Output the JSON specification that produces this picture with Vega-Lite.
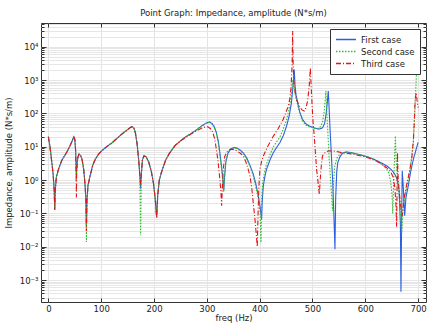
{
  "$schema": "https://vega.github.io/schema/vega-lite/v6.json",
  "autosize": {"type": "none"},
  "width": 385,
  "height": 279,
  "padding": {"left": 41, "top": 23, "right": 9, "bottom": 22},
  "background": "white",
  "config": {
    "font": "DejaVu Sans",
    "view": {"stroke": "#333333", "strokeWidth": 1},
    "axis": {"labelFont": "DejaVu Sans", "titleFont": "DejaVu Sans", "labelColor": "#222222", "titleColor": "#222222", "labelFontSize": 8.5, "titleFontSize": 8.5, "titleFontWeight": "normal", "domainColor": "#333333", "tickColor": "#333333"}
  },
  "title": {"text": "Point Graph: Impedance, amplitude (N*s/m)", "fontSize": 8.5, "fontWeight": "normal", "font": "DejaVu Sans", "color": "#222222", "offset": 5},
  "datasets": {
    "curves": [
      {"s":"First case","f":0,"v":20},{"s":"First case","f":3,"v":10},{"s":"First case","f":6,"v":4},{"s":"First case","f":9,"v":1.5},{"s":"First case","f":11,"v":0.5},{"s":"First case","f":12,"v":0.13},{"s":"First case","f":13,"v":0.5},{"s":"First case","f":15,"v":1.2},{"s":"First case","f":19,"v":2.1},{"s":"First case","f":25,"v":3.8},{"s":"First case","f":30,"v":5.2},{"s":"First case","f":35,"v":7},{"s":"First case","f":40,"v":10},{"s":"First case","f":45,"v":15},{"s":"First case","f":48,"v":20},{"s":"First case","f":50,"v":17},{"s":"First case","f":51.5,"v":8},{"s":"First case","f":52.5,"v":2.5},{"s":"First case","f":53,"v":1.2},{"s":"First case","f":54,"v":3},{"s":"First case","f":56,"v":5},{"s":"First case","f":58,"v":6},{"s":"First case","f":61,"v":5.5},{"s":"First case","f":64,"v":4},{"s":"First case","f":67,"v":2},{"s":"First case","f":69.5,"v":0.7},{"s":"First case","f":71,"v":0.25},{"s":"First case","f":72,"v":0.04},{"s":"First case","f":73,"v":0.25},{"s":"First case","f":75,"v":0.7},{"s":"First case","f":79,"v":1.35},{"s":"First case","f":84,"v":2.8},{"s":"First case","f":89,"v":4.3},{"s":"First case","f":95,"v":6},{"s":"First case","f":101,"v":7.6},{"s":"First case","f":110,"v":10},{"s":"First case","f":120,"v":13},{"s":"First case","f":130,"v":18},{"s":"First case","f":139,"v":24},{"s":"First case","f":148,"v":31},{"s":"First case","f":155,"v":38},{"s":"First case","f":158.5,"v":40},{"s":"First case","f":162,"v":36},{"s":"First case","f":165,"v":25},{"s":"First case","f":168,"v":12},{"s":"First case","f":171,"v":4},{"s":"First case","f":173,"v":1.5},{"s":"First case","f":174.6,"v":0.55},{"s":"First case","f":176,"v":1.5},{"s":"First case","f":178,"v":4},{"s":"First case","f":181,"v":5.4},{"s":"First case","f":185,"v":5},{"s":"First case","f":190,"v":3.5},{"s":"First case","f":195,"v":1.8},{"s":"First case","f":199,"v":0.8},{"s":"First case","f":202,"v":0.3},{"s":"First case","f":205,"v":0.076},{"s":"First case","f":207,"v":0.35},{"s":"First case","f":210,"v":1},{"s":"First case","f":214,"v":1.7},{"s":"First case","f":222,"v":4},{"s":"First case","f":230,"v":6.7},{"s":"First case","f":240,"v":11},{"s":"First case","f":250,"v":15},{"s":"First case","f":260,"v":20},{"s":"First case","f":270,"v":25},{"s":"First case","f":280,"v":32},{"s":"First case","f":290,"v":42},{"s":"First case","f":298,"v":51},{"s":"First case","f":305,"v":56},{"s":"First case","f":310,"v":50},{"s":"First case","f":314,"v":40},{"s":"First case","f":318,"v":27},{"s":"First case","f":322,"v":14},{"s":"First case","f":325,"v":6},{"s":"First case","f":328,"v":2.5},{"s":"First case","f":330.5,"v":1},{"s":"First case","f":332,"v":0.5},{"s":"First case","f":333.5,"v":1.2},{"s":"First case","f":336,"v":3.5},{"s":"First case","f":340,"v":6.5},{"s":"First case","f":346,"v":8.8},{"s":"First case","f":352,"v":9.5},{"s":"First case","f":358,"v":9},{"s":"First case","f":364,"v":7.8},{"s":"First case","f":370,"v":6.3},{"s":"First case","f":376,"v":4.5},{"s":"First case","f":382,"v":2.7},{"s":"First case","f":388,"v":1.5},{"s":"First case","f":393,"v":0.75},{"s":"First case","f":398,"v":0.3},{"s":"First case","f":401,"v":0.15},{"s":"First case","f":403.7,"v":0.068},{"s":"First case","f":405,"v":0.25},{"s":"First case","f":407,"v":0.68},{"s":"First case","f":410,"v":1.3},{"s":"First case","f":413,"v":2.1},{"s":"First case","f":420,"v":4.2},{"s":"First case","f":426,"v":6.7},{"s":"First case","f":432,"v":9.5},{"s":"First case","f":438.5,"v":13.5},{"s":"First case","f":445,"v":22},{"s":"First case","f":451,"v":42},{"s":"First case","f":456,"v":85},{"s":"First case","f":460,"v":200},{"s":"First case","f":463,"v":600},{"s":"First case","f":465.5,"v":2100},{"s":"First case","f":467,"v":700},{"s":"First case","f":469,"v":350},{"s":"First case","f":472,"v":210},{"s":"First case","f":476,"v":110},{"s":"First case","f":481,"v":67},{"s":"First case","f":487,"v":50},{"s":"First case","f":494,"v":42},{"s":"First case","f":503,"v":37},{"s":"First case","f":513,"v":34},{"s":"First case","f":519,"v":37},{"s":"First case","f":523,"v":50},{"s":"First case","f":526,"v":100},{"s":"First case","f":528.5,"v":250},{"s":"First case","f":530,"v":470},{"s":"First case","f":531.5,"v":150},{"s":"First case","f":533.5,"v":30},{"s":"First case","f":536,"v":5},{"s":"First case","f":538.5,"v":0.8},{"s":"First case","f":540.5,"v":0.1},{"s":"First case","f":542.6,"v":0.0085},{"s":"First case","f":544,"v":0.3},{"s":"First case","f":546,"v":1.8},{"s":"First case","f":548,"v":3.4},{"s":"First case","f":552,"v":5},{"s":"First case","f":557,"v":6.5},{"s":"First case","f":565,"v":7},{"s":"First case","f":575,"v":6.6},{"s":"First case","f":590,"v":5.8},{"s":"First case","f":605,"v":5},{"s":"First case","f":617,"v":4.2},{"s":"First case","f":630,"v":3.3},{"s":"First case","f":642,"v":2.6},{"s":"First case","f":650,"v":2},{"s":"First case","f":655,"v":1.6},{"s":"First case","f":660,"v":1.1},{"s":"First case","f":664,"v":0.5},{"s":"First case","f":666.5,"v":0.05},{"s":"First case","f":667.6,"v":0.00045},{"s":"First case","f":668.8,"v":0.05},{"s":"First case","f":670,"v":1.9},{"s":"First case","f":672,"v":0.6},{"s":"First case","f":674.6,"v":0.085},{"s":"First case","f":677,"v":0.3},{"s":"First case","f":681.5,"v":0.68},{"s":"First case","f":686,"v":1.8},{"s":"First case","f":691,"v":4.2},{"s":"First case","f":696,"v":8},{"s":"First case","f":700,"v":13.5},

      {"s":"Second case","f":0,"v":20},{"s":"Second case","f":3,"v":10},{"s":"Second case","f":6,"v":4},{"s":"Second case","f":9,"v":1.5},{"s":"Second case","f":11,"v":0.5},{"s":"Second case","f":12,"v":0.13},{"s":"Second case","f":13,"v":0.5},{"s":"Second case","f":15,"v":1.2},{"s":"Second case","f":19,"v":2.1},{"s":"Second case","f":25,"v":3.8},{"s":"Second case","f":30,"v":5.2},{"s":"Second case","f":35,"v":7},{"s":"Second case","f":40,"v":10},{"s":"Second case","f":45,"v":15},{"s":"Second case","f":48,"v":20},{"s":"Second case","f":50,"v":17},{"s":"Second case","f":51.5,"v":8},{"s":"Second case","f":52.5,"v":2.5},{"s":"Second case","f":53,"v":1.2},{"s":"Second case","f":54,"v":3},{"s":"Second case","f":56,"v":5},{"s":"Second case","f":58,"v":6},{"s":"Second case","f":61,"v":5.5},{"s":"Second case","f":64,"v":4},{"s":"Second case","f":67,"v":2},{"s":"Second case","f":69.5,"v":0.7},{"s":"Second case","f":71,"v":0.25},{"s":"Second case","f":72,"v":0.014},{"s":"Second case","f":73,"v":0.25},{"s":"Second case","f":75,"v":0.7},{"s":"Second case","f":79,"v":1.35},{"s":"Second case","f":84,"v":2.8},{"s":"Second case","f":89,"v":4.3},{"s":"Second case","f":95,"v":6},{"s":"Second case","f":101,"v":7.6},{"s":"Second case","f":110,"v":10},{"s":"Second case","f":120,"v":13},{"s":"Second case","f":130,"v":18},{"s":"Second case","f":139,"v":24},{"s":"Second case","f":148,"v":31},{"s":"Second case","f":155,"v":38},{"s":"Second case","f":158.5,"v":40},{"s":"Second case","f":162,"v":36},{"s":"Second case","f":165,"v":25},{"s":"Second case","f":168,"v":12},{"s":"Second case","f":171,"v":4},{"s":"Second case","f":173,"v":1.5},{"s":"Second case","f":174.6,"v":0.022},{"s":"Second case","f":176,"v":1.5},{"s":"Second case","f":178,"v":4},{"s":"Second case","f":181,"v":5.4},{"s":"Second case","f":185,"v":5},{"s":"Second case","f":190,"v":3.5},{"s":"Second case","f":195,"v":1.8},{"s":"Second case","f":199,"v":0.8},{"s":"Second case","f":202,"v":0.3},{"s":"Second case","f":205,"v":0.076},{"s":"Second case","f":207,"v":0.35},{"s":"Second case","f":210,"v":1},{"s":"Second case","f":214,"v":1.7},{"s":"Second case","f":222,"v":4},{"s":"Second case","f":230,"v":6.7},{"s":"Second case","f":240,"v":11},{"s":"Second case","f":250,"v":15},{"s":"Second case","f":260,"v":20},{"s":"Second case","f":270,"v":25},{"s":"Second case","f":280,"v":32},{"s":"Second case","f":290,"v":41},{"s":"Second case","f":298,"v":50},{"s":"Second case","f":305,"v":54},{"s":"Second case","f":310,"v":48},{"s":"Second case","f":314,"v":38},{"s":"Second case","f":318,"v":25},{"s":"Second case","f":322,"v":12},{"s":"Second case","f":325,"v":5},{"s":"Second case","f":328,"v":2},{"s":"Second case","f":330.5,"v":0.9},{"s":"Second case","f":332,"v":0.45},{"s":"Second case","f":333.5,"v":1.3},{"s":"Second case","f":336,"v":3.8},{"s":"Second case","f":340,"v":6.6},{"s":"Second case","f":346,"v":8.8},{"s":"Second case","f":352,"v":9.3},{"s":"Second case","f":358,"v":8.8},{"s":"Second case","f":364,"v":7.5},{"s":"Second case","f":370,"v":6},{"s":"Second case","f":376,"v":4.2},{"s":"Second case","f":382,"v":2.5},{"s":"Second case","f":388,"v":1.3},{"s":"Second case","f":393,"v":0.6},{"s":"Second case","f":398,"v":0.25},{"s":"Second case","f":401,"v":0.1},{"s":"Second case","f":402.5,"v":0.0136},{"s":"Second case","f":404,"v":0.3},{"s":"Second case","f":406,"v":0.9},{"s":"Second case","f":410,"v":2},{"s":"Second case","f":413,"v":3},{"s":"Second case","f":420,"v":6},{"s":"Second case","f":426,"v":10},{"s":"Second case","f":432,"v":14},{"s":"Second case","f":438.5,"v":20},{"s":"Second case","f":445,"v":35},{"s":"Second case","f":451,"v":65},{"s":"Second case","f":456,"v":140},{"s":"Second case","f":460,"v":350},{"s":"Second case","f":462.5,"v":900},{"s":"Second case","f":464,"v":1200},{"s":"Second case","f":465.5,"v":600},{"s":"Second case","f":467,"v":400},{"s":"Second case","f":469,"v":280},{"s":"Second case","f":472,"v":180},{"s":"Second case","f":476,"v":100},{"s":"Second case","f":481,"v":60},{"s":"Second case","f":487,"v":45},{"s":"Second case","f":494,"v":40},{"s":"Second case","f":503,"v":36},{"s":"Second case","f":510,"v":35},{"s":"Second case","f":515,"v":40},{"s":"Second case","f":519,"v":55},{"s":"Second case","f":522,"v":110},{"s":"Second case","f":524.5,"v":300},{"s":"Second case","f":525.5,"v":470},{"s":"Second case","f":527,"v":120},{"s":"Second case","f":529,"v":30},{"s":"Second case","f":531.5,"v":5},{"s":"Second case","f":534,"v":1.2},{"s":"Second case","f":536,"v":0.4},{"s":"Second case","f":538,"v":0.12},{"s":"Second case","f":539.5,"v":0.6},{"s":"Second case","f":542,"v":2.5},{"s":"Second case","f":546,"v":4.5},{"s":"Second case","f":552,"v":6},{"s":"Second case","f":557,"v":6.7},{"s":"Second case","f":565,"v":7},{"s":"Second case","f":575,"v":6.6},{"s":"Second case","f":590,"v":5.8},{"s":"Second case","f":605,"v":5},{"s":"Second case","f":617,"v":4.1},{"s":"Second case","f":630,"v":3.1},{"s":"Second case","f":640,"v":2.2},{"s":"Second case","f":645,"v":1.6},{"s":"Second case","f":649,"v":0.7},{"s":"Second case","f":651,"v":0.3},{"s":"Second case","f":652,"v":0.1},{"s":"Second case","f":653.5,"v":0.7},{"s":"Second case","f":655.5,"v":5},{"s":"Second case","f":657,"v":21},{"s":"Second case","f":658.5,"v":4},{"s":"Second case","f":661,"v":1.2},{"s":"Second case","f":664,"v":0.4},{"s":"Second case","f":667,"v":0.12},{"s":"Second case","f":669,"v":0.025},{"s":"Second case","f":671,"v":0.1},{"s":"Second case","f":674,"v":0.3},{"s":"Second case","f":678,"v":0.54},{"s":"Second case","f":684.7,"v":2.1},{"s":"Second case","f":691,"v":13.5},{"s":"Second case","f":694,"v":134},{"s":"Second case","f":697,"v":1660},{"s":"Second case","f":699.5,"v":2600},

      {"s":"Third case","f":0,"v":20},{"s":"Third case","f":3,"v":10},{"s":"Third case","f":6,"v":4},{"s":"Third case","f":9,"v":1.5},{"s":"Third case","f":11,"v":0.5},{"s":"Third case","f":12,"v":0.13},{"s":"Third case","f":13,"v":0.5},{"s":"Third case","f":15,"v":1.2},{"s":"Third case","f":19,"v":2.1},{"s":"Third case","f":25,"v":3.8},{"s":"Third case","f":30,"v":5.2},{"s":"Third case","f":35,"v":7},{"s":"Third case","f":40,"v":10},{"s":"Third case","f":45,"v":15},{"s":"Third case","f":48,"v":20},{"s":"Third case","f":50,"v":17},{"s":"Third case","f":51.5,"v":8},{"s":"Third case","f":52.5,"v":1.5},{"s":"Third case","f":53,"v":0.3},{"s":"Third case","f":53.7,"v":2},{"s":"Third case","f":56,"v":5},{"s":"Third case","f":58,"v":6},{"s":"Third case","f":61,"v":5.5},{"s":"Third case","f":64,"v":4},{"s":"Third case","f":67,"v":2},{"s":"Third case","f":69.5,"v":0.7},{"s":"Third case","f":71,"v":0.25},{"s":"Third case","f":72,"v":0.03},{"s":"Third case","f":73,"v":0.25},{"s":"Third case","f":75,"v":0.7},{"s":"Third case","f":79,"v":1.35},{"s":"Third case","f":84,"v":2.8},{"s":"Third case","f":89,"v":4.3},{"s":"Third case","f":95,"v":6},{"s":"Third case","f":101,"v":7.6},{"s":"Third case","f":110,"v":10},{"s":"Third case","f":120,"v":13},{"s":"Third case","f":130,"v":18},{"s":"Third case","f":139,"v":24},{"s":"Third case","f":148,"v":31},{"s":"Third case","f":155,"v":38},{"s":"Third case","f":158.5,"v":40},{"s":"Third case","f":162,"v":36},{"s":"Third case","f":165,"v":25},{"s":"Third case","f":168,"v":12},{"s":"Third case","f":171,"v":4},{"s":"Third case","f":173,"v":1.5},{"s":"Third case","f":174.6,"v":0.75},{"s":"Third case","f":176,"v":1.5},{"s":"Third case","f":178,"v":4},{"s":"Third case","f":181,"v":5.4},{"s":"Third case","f":185,"v":5},{"s":"Third case","f":190,"v":3.5},{"s":"Third case","f":195,"v":1.8},{"s":"Third case","f":199,"v":0.8},{"s":"Third case","f":202,"v":0.3},{"s":"Third case","f":205,"v":0.076},{"s":"Third case","f":207,"v":0.35},{"s":"Third case","f":210,"v":1},{"s":"Third case","f":214,"v":1.7},{"s":"Third case","f":222,"v":4},{"s":"Third case","f":230,"v":6.7},{"s":"Third case","f":240,"v":11},{"s":"Third case","f":250,"v":15},{"s":"Third case","f":260,"v":19},{"s":"Third case","f":270,"v":24},{"s":"Third case","f":280,"v":30},{"s":"Third case","f":290,"v":36},{"s":"Third case","f":296,"v":39},{"s":"Third case","f":302,"v":40},{"s":"Third case","f":307,"v":35},{"s":"Third case","f":311.5,"v":27},{"s":"Third case","f":315,"v":17},{"s":"Third case","f":318,"v":8.5},{"s":"Third case","f":321,"v":4},{"s":"Third case","f":324,"v":1.35},{"s":"Third case","f":326.5,"v":0.5},{"s":"Third case","f":328,"v":0.17},{"s":"Third case","f":329.5,"v":0.6},{"s":"Third case","f":331,"v":2},{"s":"Third case","f":333.7,"v":5},{"s":"Third case","f":338,"v":7},{"s":"Third case","f":342,"v":8},{"s":"Third case","f":346,"v":8.5},{"s":"Third case","f":352,"v":8.3},{"s":"Third case","f":358,"v":7.3},{"s":"Third case","f":364,"v":6.3},{"s":"Third case","f":369,"v":5.3},{"s":"Third case","f":374,"v":3.5},{"s":"Third case","f":378,"v":2.2},{"s":"Third case","f":381.6,"v":1.35},{"s":"Third case","f":385,"v":0.6},{"s":"Third case","f":388,"v":0.2},{"s":"Third case","f":391,"v":0.07},{"s":"Third case","f":393.5,"v":0.025},{"s":"Third case","f":395.5,"v":0.01},{"s":"Third case","f":397,"v":0.1},{"s":"Third case","f":398.5,"v":0.6},{"s":"Third case","f":400.5,"v":2.1},{"s":"Third case","f":404,"v":3.8},{"s":"Third case","f":407,"v":5.3},{"s":"Third case","f":415,"v":10},{"s":"Third case","f":420,"v":14},{"s":"Third case","f":426,"v":21},{"s":"Third case","f":435,"v":35},{"s":"Third case","f":444.7,"v":67},{"s":"Third case","f":450,"v":110},{"s":"Third case","f":454,"v":160},{"s":"Third case","f":457,"v":270},{"s":"Third case","f":459.5,"v":600},{"s":"Third case","f":461.5,"v":3000},{"s":"Third case","f":462.5,"v":30000},{"s":"Third case","f":463.5,"v":3000},{"s":"Third case","f":465,"v":800},{"s":"Third case","f":467,"v":450},{"s":"Third case","f":470,"v":260},{"s":"Third case","f":475,"v":170},{"s":"Third case","f":480,"v":128},{"s":"Third case","f":484.5,"v":118},{"s":"Third case","f":488,"v":150},{"s":"Third case","f":491,"v":250},{"s":"Third case","f":494,"v":700},{"s":"Third case","f":496,"v":2350},{"s":"Third case","f":497.5,"v":700},{"s":"Third case","f":499.5,"v":150},{"s":"Third case","f":501,"v":60},{"s":"Third case","f":503,"v":25},{"s":"Third case","f":505.5,"v":7},{"s":"Third case","f":508,"v":2},{"s":"Third case","f":510.5,"v":0.9},{"s":"Third case","f":513,"v":0.38},{"s":"Third case","f":515,"v":1.2},{"s":"Third case","f":517,"v":3},{"s":"Third case","f":519,"v":5.3},{"s":"Third case","f":525,"v":7},{"s":"Third case","f":532,"v":7.6},{"s":"Third case","f":545,"v":7.3},{"s":"Third case","f":557,"v":6.6},{"s":"Third case","f":575,"v":6.1},{"s":"Third case","f":590,"v":5.4},{"s":"Third case","f":605,"v":4.7},{"s":"Third case","f":620,"v":3.8},{"s":"Third case","f":630,"v":3.1},{"s":"Third case","f":640,"v":2.4},{"s":"Third case","f":648,"v":1.8},{"s":"Third case","f":653,"v":1.2},{"s":"Third case","f":656,"v":0.6},{"s":"Third case","f":658,"v":0.2},{"s":"Third case","f":659.4,"v":0.04},{"s":"Third case","f":660.2,"v":0.5},{"s":"Third case","f":661,"v":6.7},{"s":"Third case","f":662,"v":1.5},{"s":"Third case","f":664,"v":0.5},{"s":"Third case","f":667,"v":0.18},{"s":"Third case","f":670,"v":0.086},{"s":"Third case","f":673,"v":0.25},{"s":"Third case","f":678,"v":0.68},{"s":"Third case","f":683,"v":1.6},{"s":"Third case","f":688,"v":4.2},{"s":"Third case","f":691,"v":15},{"s":"Third case","f":693,"v":60},{"s":"Third case","f":694.5,"v":270},{"s":"Third case","f":696.5,"v":420},{"s":"Third case","f":698,"v":250},{"s":"Third case","f":700,"v":150}
    ]
  },
  "data": {"name": "curves"},
  "resolve": {"axis": {"x": "independent", "y": "independent"}},
  "layer": [
    {
      "mark": {"type": "line", "strokeWidth": 1.1, "clip": true},
      "encoding": {
        "x": {"field": "f", "type": "quantitative", "scale": {"domain": [-14, 715], "nice": false, "zero": false},
          "axis": {"title": "freq (Hz)", "values": [0,100,200,300,400,500,600,700], "grid": true, "gridColor": "#e3e3e3", "tickSize": -4, "labelPadding": 6, "titlePadding": 1, "domain": false}},
        "y": {"field": "v", "type": "quantitative", "scale": {"type": "log", "domain": [0.00022, 52000], "nice": false},
          "axis": {"title": "Impedance, amplitude (N*s/m)", "titlePadding": 6, "grid": true, "gridColor": "#e6e6e6", "domain": false,
            "values": [0.0003,0.0004,0.0005,0.0006,0.0007,0.0008,0.0009,0.001,0.002,0.003,0.004,0.005,0.006,0.007,0.008,0.009,0.01,0.02,0.03,0.04,0.05,0.06,0.07,0.08,0.09,0.1,0.2,0.3,0.4,0.5,0.6,0.7,0.8,0.9,1,2,3,4,5,6,7,8,9,10,20,30,40,50,60,70,80,90,100,200,300,400,500,600,700,800,900,1000,2000,3000,4000,5000,6000,7000,8000,9000,10000,20000,30000,40000,50000],
            "labelExpr": "abs(log(datum.value)/LN10 - round(log(datum.value)/LN10)) < 0.001 ? ['10⁻³','10⁻²','10⁻¹','10⁰','10¹','10²','10³','10⁴'][round(log(datum.value)/LN10)+3] : ''",
            "tickSize": {"condition": {"test": "abs(log(datum.value)/LN10 - round(log(datum.value)/LN10)) < 0.001", "value": -5}, "value": -3},
            "labelPadding": 8}},
        "color": {"field": "s", "type": "nominal", "scale": {"domain": ["First case", "Second case", "Third case"], "range": ["#2a5fe0", "#33bb33", "#e01515"]},
          "legend": {"title": null, "orient": "top-right", "offset": 6, "fillColor": "white", "strokeColor": "#333333", "padding": 5, "labelFontSize": 8.5, "labelFont": "DejaVu Sans", "symbolType": "stroke", "symbolSize": 400, "symbolStrokeWidth": 1.3, "rowPadding": 1, "clipHeight": 11, "labelColor": "#222222", "labelOffset": 4}},
        "strokeDash": {"field": "s", "type": "nominal", "scale": {"domain": ["First case", "Second case", "Third case"], "range": [[1, 0], [1.5, 1.5], [5, 2, 1, 2]]},
          "legend": {"title": null, "orient": "top-right", "offset": 6, "fillColor": "white", "strokeColor": "#333333", "padding": 5, "labelFontSize": 8.5, "labelFont": "DejaVu Sans", "symbolType": "stroke", "symbolSize": 400, "symbolStrokeWidth": 1.3, "rowPadding": 1, "clipHeight": 11, "labelColor": "#222222", "labelOffset": 4}}
      }
    },
    {
      "mark": {"type": "line", "opacity": 0},
      "encoding": {
        "x": {"field": "f", "type": "quantitative", "axis": {"orient": "top", "title": null, "labels": false, "values": [0,100,200,300,400,500,600,700], "grid": false, "tickSize": -4, "domain": false}},
        "y": {"field": "v", "type": "quantitative",
          "axis": {"orient": "right", "title": null, "labels": false, "grid": false, "domain": false,
            "values": [0.0003,0.0004,0.0005,0.0006,0.0007,0.0008,0.0009,0.001,0.002,0.003,0.004,0.005,0.006,0.007,0.008,0.009,0.01,0.02,0.03,0.04,0.05,0.06,0.07,0.08,0.09,0.1,0.2,0.3,0.4,0.5,0.6,0.7,0.8,0.9,1,2,3,4,5,6,7,8,9,10,20,30,40,50,60,70,80,90,100,200,300,400,500,600,700,800,900,1000,2000,3000,4000,5000,6000,7000,8000,9000,10000,20000,30000,40000,50000],
            "tickSize": {"condition": {"test": "abs(log(datum.value)/LN10 - round(log(datum.value)/LN10)) < 0.001", "value": -5}, "value": -3}}},
        "detail": {"field": "s", "type": "nominal"}
      }
    }
  ]
}
